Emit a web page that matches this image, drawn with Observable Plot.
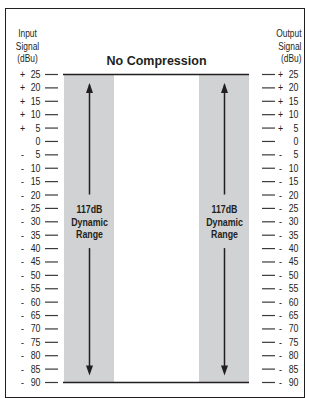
<!DOCTYPE html>
<html>
<head>
<meta charset="utf-8">
<script src="https://cdn.jsdelivr.net/npm/d3@7"></script>
<script src="https://cdn.jsdelivr.net/npm/@observablehq/plot@0.6"></script>
<style>
  html, body { margin: 0; padding: 0; background: #fff; }
  #wrap { position: relative; width: 310px; height: 398px; overflow: hidden; }
  #border { position: absolute; left: 5px; top: 8px; width: 300px; height: 390px;
            border: 1.5px solid #231f20; box-sizing: border-box; pointer-events: none; }
  #chart { position: absolute; left: 0; top: 0; }
</style>
</head>
<body>
<div id="wrap"><div id="chart"></div><div id="border"></div></div>
<script>
// ---- data ----
const tickValues = [25, 20, 15, 10, 5, 0, -5, -10, -15, -20, -25, -30, -35, -40, -45, -50, -55, -60, -65, -70, -75, -80, -85, -90];
const signals = ["Input", "Output"];
const rangeTop = 25;
const rangeBottom = -90;
const rangeLabel = "117dB\nDynamic\nRange";
const labelLevel = -30;
const shaftSegments = [{top: 21, bottom: -20}, {top: -40, bottom: -85}];
const arrowHeads = [{level: 20, dir: "up"}, {level: -85.5, dir: "down"}];
const chartTitle = "No Compression";
const inputTitle = "Input\nSignal\n(dBu)";
const outputTitle = "Output\nSignal\n(dBu)";

const ink = "#231f20";
const font = "'Liberation Sans', Arial, sans-serif";
const condense = 0.8;

const bands = signals.map(s => ({signal: s, y1: rangeTop, y2: rangeBottom}));
const shafts = signals.flatMap(s => shaftSegments.map(g => ({signal: s, ...g})));
const heads = signals.flatMap(s => arrowHeads.map(h => ({signal: s, ...h})));
const labels = signals.map(s => ({signal: s, level: labelLevel, text: rangeLabel}));
const signTicks = tickValues.filter(v => v !== 0).map(v => ({v, sign: v > 0 ? "+" : "-"}));

const narrowTriangle = {
  draw(context, size) {
    const r = Math.sqrt(size / Math.PI);
    context.moveTo(0, -r);
    context.lineTo(0.7 * r, r);
    context.lineTo(-0.7 * r, r);
    context.closePath();
  }
};

const chart = Plot.plot({
  width: 310,
  height: 398,
  marginTop: 74,
  marginBottom: 16,
  marginLeft: 63,
  marginRight: 61,
  style: {fontFamily: font, fontSize: "10px", color: ink, background: "transparent"},
  x: {type: "band", domain: signals, paddingInner: 0.632, paddingOuter: 0, axis: null},
  y: {domain: [rangeBottom, rangeTop], axis: null},
  marks: [
    Plot.barY(bands, {x: "signal", y1: "y1", y2: "y2", fill: "#d1d2d4"}),
    Plot.ruleY([rangeTop, rangeBottom], {stroke: ink, strokeWidth: 1.6}),
    Plot.ruleX(shafts, {x: "signal", y1: "top", y2: "bottom", stroke: ink, strokeWidth: 1.5}),
    Plot.dot(heads, {x: "signal", y: "level", r: 5, symbol: narrowTriangle, fill: ink, stroke: null,
      rotate: d => d.dir === "up" ? 0 : 180}),
    Plot.text(labels, {x: "signal", y: "level", text: "text", fontWeight: "bold", fontSize: 11,
      lineHeight: 1.15, fill: ink}),
    // left axis
    Plot.axisY(tickValues, {anchor: "left", tickSize: 13, tickPadding: 5, dx: -5,
      tickFormat: d => String(Math.abs(d)), stroke: "#3a3a3a", strokeWidth: 1.2, fill: ink, fontSize: 11}),
    Plot.text(signTicks, {y: "v", text: "sign", frameAnchor: "left", dx: -41, textAnchor: "middle", fill: ink, fontSize: 11}),
    // right axis
    Plot.axisY(tickValues, {anchor: "right", tickSize: 13, tickPadding: 24, dx: 12, textAnchor: "end",
      tickFormat: d => String(Math.abs(d)), stroke: "#3a3a3a", strokeWidth: 1.2, fill: ink, fontSize: 11}),
    Plot.text(signTicks, {y: "v", text: "sign", frameAnchor: "right", dx: 31, textAnchor: "middle", fill: ink, fontSize: 11}),
    // titles
    Plot.text([chartTitle], {frameAnchor: "top", dy: -18, text: d => d, fontWeight: "bold", fontSize: 12.5,
      className: "title", fill: ink}),
    Plot.text([inputTitle], {frameAnchor: "top-left", dx: -36, dy: -29, text: d => d, textAnchor: "middle",
      lineAnchor: "middle", lineHeight: 1.2, fontSize: 10.5, fill: ink}),
    Plot.text([outputTitle], {frameAnchor: "top-right", dx: 52, dy: -29, text: d => d, textAnchor: "end",
      lineAnchor: "middle", lineHeight: 1.2, fontSize: 10.5, fill: ink})
  ]
});

// condense the glyphs horizontally (the reference uses a condensed face), scaling about each anchor
chart.querySelectorAll("text").forEach(t => {
  if (t.closest(".title")) return;
  const x = +(t.getAttribute("x") || 0), y = +(t.getAttribute("y") || 0);
  let tr = t.getAttribute("transform") || "";
  if (x || y) {
    tr = `${tr} translate(${x},${y})`;
    t.removeAttribute("x"); t.removeAttribute("y");
  }
  t.setAttribute("transform", `${tr} scale(${condense},1)`.trim());
});

document.getElementById("chart").appendChild(chart);
</script>
</body>
</html>
